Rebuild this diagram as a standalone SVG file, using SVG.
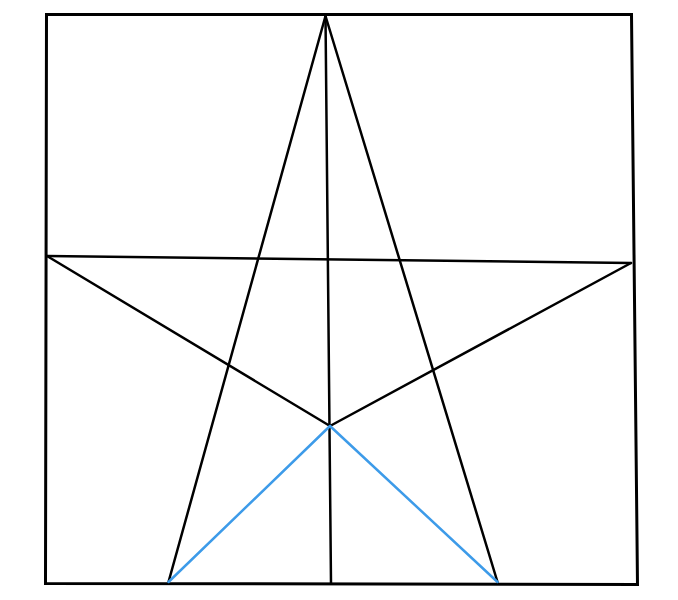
<svg xmlns="http://www.w3.org/2000/svg" width="678" height="600" viewBox="0 0 678 600">
<style>
.k{fill:none;stroke:#000;stroke-width:2.5;stroke-linecap:round;stroke-linejoin:round}
.f{fill:none;stroke:#000;stroke-width:3;stroke-linejoin:miter}
.b{fill:none;stroke:#3d9be9;stroke-width:2.5;stroke-linecap:round}
</style>
<rect width="678" height="600" fill="#fff"/>
<g id="frame"><polygon class="f" points="46.5,14.5 631.5,14.5 637.5,584.5 45.5,583.5"/></g>
<g id="connectors">
<line class="k" x1="325.5" y1="16" x2="168.5" y2="582"/>
<line class="k" x1="325.5" y1="16" x2="497.5" y2="582"/>
<line class="k" x1="325.5" y1="16" x2="331" y2="583"/>
<line class="k" x1="47" y1="256" x2="631" y2="263"/>
<line class="k" x1="47" y1="256" x2="330" y2="426"/>
<line class="k" x1="631" y1="263" x2="330" y2="426"/>
<line class="b" x1="330" y1="426" x2="168.5" y2="582"/>
<line class="b" x1="330" y1="426" x2="497.5" y2="582"/>
</g>
</svg>
